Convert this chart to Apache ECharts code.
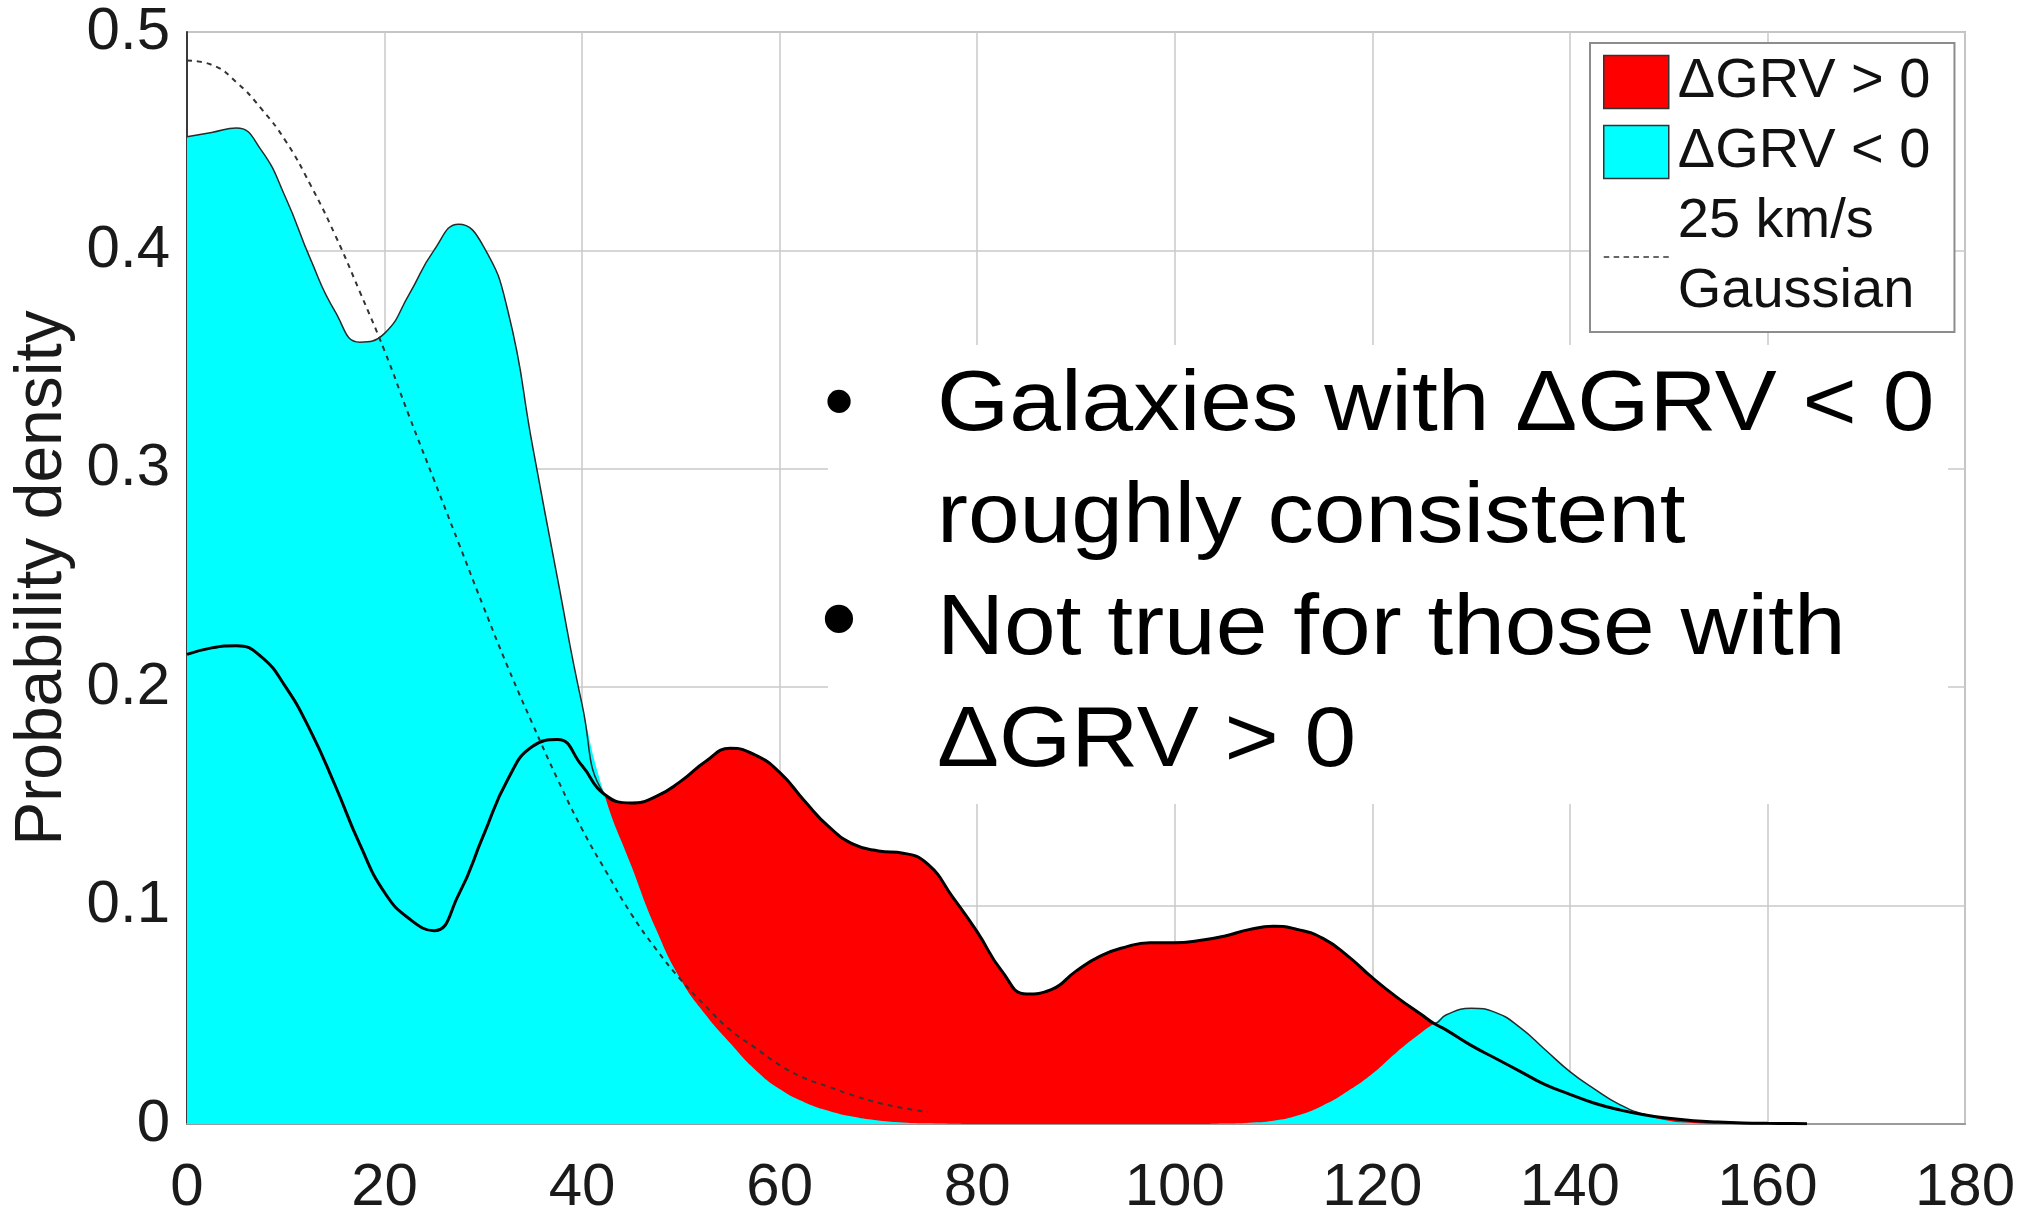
<!DOCTYPE html>
<html>
<head>
<meta charset="utf-8">
<script src="https://cdn.jsdelivr.net/npm/echarts@6/dist/echarts.min.js"></script>
<style>
html, body { margin: 0; padding: 0; background: #fff; }
#chart { width: 2039px; height: 1208px; }
</style>
</head>
<body>
<div id="chart"></div>
<script>
// Velocity offset grid (km/s) shared by both kernel density curves;
// 42.25 and 126.25 are where the two curves cross
const velocity = [0, 2.5, 5, 7.5, 10, 12.5, 15, 17.5, 20, 22.5, 25, 27.5, 30, 32.5, 35, 37.5, 40, 42.25, 45, 47.5,
  50, 52.5, 55, 57.5, 60, 62.5, 65, 67.5, 70, 72.5, 75, 77.5, 80, 82.5, 85, 87.5, 90, 92.5, 95, 97.5,
  100, 102.5, 105, 107.5, 110, 112.5, 115, 117.5, 120, 122.5, 125, 126.25, 127.5, 130, 132.5, 135, 137.5, 140, 142.5, 145, 147.5,
  150, 152.5, 155, 157.5, 160, 162.5, 164];

// Probability density, galaxies with ΔGRV > 0
const densityPositive = [0.215, 0.218, 0.219, 0.214, 0.200, 0.180, 0.155, 0.128, 0.106, 0.094, 0.0885, 0.105, 0.132, 0.158, 0.173, 0.176, 0.164, 0.151, 0.147, 0.150,
  0.157, 0.166, 0.172, 0.169, 0.161, 0.148, 0.136, 0.128, 0.125, 0.124, 0.119, 0.104, 0.088, 0.070, 0.0595, 0.0615, 0.070, 0.077, 0.081, 0.083,
  0.083, 0.084, 0.086, 0.089, 0.0905, 0.089, 0.085, 0.077, 0.067, 0.058, 0.050, 0.046, 0.043, 0.036, 0.030, 0.024, 0.018, 0.0136, 0.0095, 0.0065, 0.0042,
  0.0026, 0.0015, 0.0009, 0.0005, 0.0003, 0.0002, 0.0001];

// Probability density, galaxies with ΔGRV < 0
const densityNegative = [0.452, 0.454, 0.456, 0.446, 0.424, 0.396, 0.372, 0.358, 0.362, 0.380, 0.400, 0.412, 0.402, 0.372, 0.310, 0.250, 0.192, 0.151, 0.118, 0.089,
  0.066, 0.050, 0.037, 0.025, 0.016, 0.010, 0.006, 0.0033, 0.0016, 0.0007, 0.0003, 0.0001, 0, 0, 0, 0, 0, 0, 0, 0,
  0, 0, 0.0002, 0.0006, 0.0015, 0.004, 0.0085, 0.015, 0.023, 0.033, 0.042, 0.046, 0.050, 0.053, 0.051, 0.044, 0.034, 0.024, 0.016, 0.009, 0.0045,
  0.0015, 0.0005, 0.0001, 0, 0, 0, 0];

// Reference 25 km/s Gaussian
const gaussVelocity = [0, 2.5, 5, 7.5, 10, 12.5, 15, 17.5, 20, 22.5, 25, 27.5, 30, 32.5, 35, 37.5,
  40, 42.5, 45, 47.5, 50, 52.5, 55, 57.5, 60, 62.5, 65, 67.5, 70, 72.5, 75];
const gaussDensity = [0.487, 0.485, 0.477, 0.465, 0.450, 0.430, 0.407, 0.381, 0.354, 0.324, 0.295, 0.266, 0.237, 0.209, 0.183, 0.158,
  0.135, 0.115, 0.096, 0.080, 0.066, 0.054, 0.043, 0.035, 0.027, 0.021, 0.017, 0.013, 0.0097, 0.0073, 0.0054];

const xTickLabels = ['0', '20', '40', '60', '80', '100', '120', '140', '160', '180'];
const yTickLabels = ['0', '0.1', '0.2', '0.3', '0.4', '0.5'];

const seriesNames = ['ΔGRV > 0', 'ΔGRV < 0', '25 km/s Gaussian'];
const noteLines = ['Galaxies with ΔGRV < 0', 'roughly consistent', 'Not true for those with', 'ΔGRV > 0'];

const FONT = '"Liberation Sans", Arial, Helvetica, sans-serif';

const positivePts = velocity.map((v, i) => [v, densityPositive[i]]);
const negativePts = velocity.map((v, i) => [v, densityNegative[i]]);
// upper envelope: the cyan edge wherever it lies above the black curve
const envelopePts = velocity.map((v, i) => [v, Math.max(densityPositive[i], densityNegative[i])]);
const gaussPts = gaussVelocity.map((v, i) => [v, gaussDensity[i]]);

// legend swatch for the dashed Gaussian curve
const dashIcon = 'path://M0 0H5V2H0Z M9 0H14V2H9Z M18 0H23V2H18Z M27 0H32V2H27Z M36 0H41V2H36Z M45 0H50V2H45Z M54 0H59V2H54Z';

const chart = echarts.init(document.getElementById('chart'), null, { renderer: 'canvas' });

const noteText = (text, x, y, size, sx) => ({
  type: 'text', x: x, y: y, scaleX: sx, z: 101,
  style: { text: text, font: size + 'px ' + FONT, fill: '#000', align: 'left', verticalAlign: 'middle' }
});

chart.setOption({
  animation: false,
  backgroundColor: '#fff',
  textStyle: { fontFamily: FONT },
  grid: {
    left: 187, right: 74, top: 32, bottom: 84, outerBoundsMode: 'none', containLabel: false,
    show: true, borderColor: '#bdbdbd', borderWidth: 2, backgroundColor: '#fff'
  },
  xAxis: {
    type: 'value', min: 0, max: 180, interval: 20,
    axisLine: { show: true, onZero: false, lineStyle: { color: '#9a9a9a', width: 2 } },
    axisTick: { show: false },
    splitLine: { show: true, lineStyle: { color: '#c8c8c8', width: 1.5 } },
    axisLabel: { fontSize: 60, color: '#1a1a1a', margin: 34, formatter: v => xTickLabels[Math.round(v / 20)] }
  },
  yAxis: {
    type: 'value', min: 0, max: 0.5, interval: 0.1,
    name: 'Probability density', nameLocation: 'middle', nameGap: 107,
    nameTextStyle: { fontSize: 66, color: '#1a1a1a' },
    axisLine: { show: true, lineStyle: { color: '#3a3a3a', width: 2 } },
    axisTick: { show: false },
    splitLine: { show: true, lineStyle: { color: '#c8c8c8', width: 1.5 } },
    axisLabel: { fontSize: 60, color: '#1a1a1a', margin: 17, formatter: v => yTickLabels[Math.round(v * 10)] }
  },
  legend: {
    orient: 'vertical', left: 1590, top: 43,
    padding: [4, 24, 5, 13],
    backgroundColor: '#fff', borderColor: '#8c8c8c', borderWidth: 2,
    itemWidth: 65, itemHeight: 53, itemGap: 0,
    selectedMode: false,
    textStyle: { fontSize: 56, lineHeight: 70, color: '#111', fontFamily: FONT, padding: [0, 0, 0, 4] },
    formatter: n => n === seriesNames[2] ? '25 km/s\nGaussian' : n,
    data: [
      { name: seriesNames[0], icon: 'rect', itemStyle: { color: '#ff0000', borderColor: '#333', borderWidth: 1.5 } },
      { name: seriesNames[1], icon: 'rect', itemStyle: { color: '#00ffff', borderColor: '#333', borderWidth: 1.5 } },
      { name: seriesNames[2], icon: dashIcon, itemStyle: { color: '#666', borderWidth: 0 } }
    ]
  },
  series: [
    {
      name: seriesNames[0], type: 'line', data: positivePts, smooth: 0.5, symbol: 'none', z: 2,
      itemStyle: { color: '#ff0000' }, lineStyle: { width: 0, opacity: 0 },
      areaStyle: { color: '#ff0000', opacity: 1 }
    },
    {
      name: seriesNames[1], type: 'line', data: negativePts, smooth: 0.5, symbol: 'none', z: 3,
      itemStyle: { color: '#00ffff' }, lineStyle: { width: 0, opacity: 0 },
      areaStyle: { color: '#00ffff', opacity: 1 }
    },
    {
      name: 'envelope', type: 'line', data: envelopePts, smooth: 0.5, symbol: 'none', z: 4,
      lineStyle: { color: '#2a2a2a', width: 1.5 }
    },
    {
      name: 'ΔGRV > 0 density', type: 'line', data: positivePts, smooth: 0.5, symbol: 'none', z: 5,
      lineStyle: { color: '#000', width: 3 }
    },
    {
      name: seriesNames[2], type: 'line', data: gaussPts, smooth: 0.5, symbol: 'none', z: 6,
      itemStyle: { color: '#333' },
      lineStyle: { color: '#333', width: 2, type: [5, 5] }
    }
  ],
  graphic: [
    { type: 'rect', z: 100, shape: { x: 828, y: 345, width: 1120, height: 459 }, style: { fill: '#fff' } },
    { type: 'text', x: 839, y: 406, z: 101, style: { text: '•', font: '86px ' + FONT, fill: '#000', align: 'center', verticalAlign: 'middle' } },
    { type: 'text', x: 839, y: 624, z: 101, style: { text: '•', font: '104px ' + FONT, fill: '#000', align: 'center', verticalAlign: 'middle' } },
    noteText(noteLines[0], 937, 406, 86, 1.08),
    noteText(noteLines[1], 937, 518, 86, 1.08),
    noteText(noteLines[2], 937, 630, 86, 1.08),
    noteText(noteLines[3], 937, 742, 86, 1.08)
  ]
});
</script>
</body>
</html>
